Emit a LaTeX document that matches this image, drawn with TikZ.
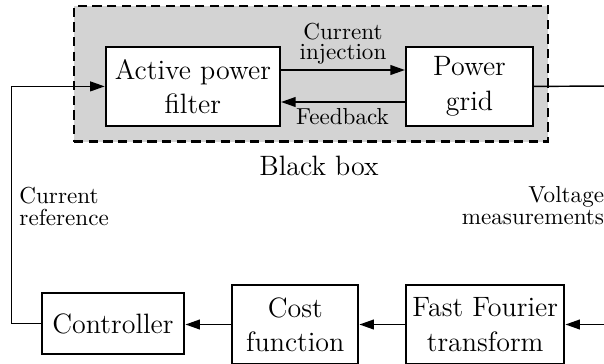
\documentclass[tikz,border=0pt]{standalone}
\usetikzlibrary{arrows.meta,calc}
\definecolor{bbgray}{RGB}{211,211,211}
\begin{document}
\begin{tikzpicture}[x=0.45pt,y=-0.45pt,
  blk/.style={draw,line width=1pt,fill=white,inner sep=0pt,align=center,
    font=\fontsize{12.6}{15.5}\selectfont},
  lbl/.style={inner sep=0pt,font=\fontsize{10.4}{9.9}\selectfont},
  conn/.style={line width=0.65pt,-{Triangle[length=6.5pt,width=4.4pt]}},
  wire/.style={line width=0.65pt},
  bbox/.style={draw,line width=1.15pt,dash pattern=on 4.2pt off 2.4pt,fill=bbgray,
    inner sep=0pt}]
\clip (0,0) rectangle (604,363);
% black box container
\node[bbox,minimum width=213.3pt,minimum height=61.1pt] (bb) at (311,73.85) {};
\node[anchor=base,inner sep=0pt,font=\fontsize{12.6}{14}\selectfont] (bbl) at (319,175) {Black box};
% blocks
\node[blk,minimum width=78.4pt,minimum height=35.7pt] (apf) at (192.9,86.4) {Active power\\filter};
\node[blk,minimum width=57.15pt,minimum height=35.7pt] (pg) at (469.5,86.4) {Power\\grid};
\node[blk,minimum width=64.2pt,minimum height=27.6pt] (ctrl) at (113,323.6) {Controller};
\node[blk,minimum width=56.7pt,minimum height=35.6pt] (cost) at (295.3,324.5) {Cost\\function};
\node[blk,minimum width=71.2pt,minimum height=35.6pt] (fft) at (485.2,324.5) {Fast Fourier\\transform};
% arrows in black box
\draw[conn] ($(apf.east)+(0,-16.4)$) -- ($(pg.west)+(0,-16.4)$);
\draw[conn] ($(pg.west)+(0,15.6)$) -- ($(apf.east)+(0,15.6)$);
\node[lbl,anchor=south,align=center,font=\fontsize{10.4}{9}\selectfont] (ci) at (343,64.6) {Current\\injection};
\node[lbl,anchor=base] (fb) at (342.5,124) {Feedback};
% outer loop
\coordinate (cl) at (11.7,323.6);
\coordinate (outR) at (612,86);
\coordinate (inR) at (612,324.5);
\draw[wire] (pg.east) -- (outR);
\draw[conn] (ctrl.west) -- (cl) |- (apf.west);
\draw[conn] (inR) -- (fft.east);
\draw[conn] (fft.west) -- (cost.east);
\draw[conn] (cost.west) -- (cost.west -| ctrl.east);
% labels
\node[lbl,anchor=north west,align=left] (cr) at (19,186.5) {Current\\reference};
\node[lbl,anchor=north east,align=right] (vm) at (604.5,185.6) {Voltage\\measurements};
\end{tikzpicture}
\end{document}
